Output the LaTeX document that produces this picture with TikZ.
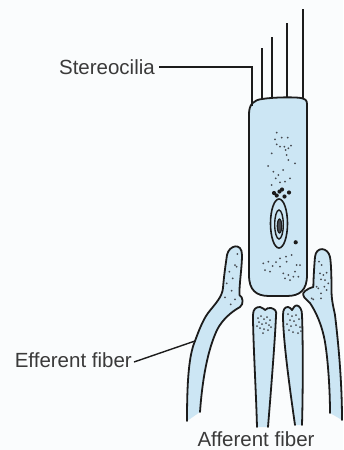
\documentclass[tikz,border=0pt]{standalone}
\usepackage{fontspec}
\setmainfont{Liberation Sans}
\definecolor{paper}{RGB}{250,252,253}
\definecolor{cyto}{RGB}{204,230,244}
\definecolor{ink}{RGB}{28,28,28}
\definecolor{labelgray}{RGB}{58,58,58}
\definecolor{graingray}{RGB}{70,74,80}
\begin{document}
\begin{tikzpicture}[x=1pt,y=-1pt,
  outline/.style={draw=ink,line width=1.8pt,line join=round,line cap=round},
  cellfill/.style={fill=cyto},
  cilium/.style={draw=ink,line width=1.6pt},
  leader/.style={draw=ink,line width=1.4pt},
  lbl/.style={font=\fontsize{20.5}{24}\selectfont,text=labelgray,inner sep=0pt},
  grain/.style={fill=graingray},
  granule/.style={fill=ink}]

\useasboundingbox (0,0) rectangle (343,450);
\fill[paper] (0,0) rectangle (343,450);

% stereocilia bundle on top of the hair cell
\draw[cilium] (262,48) -- (262,99);
\draw[cilium] (272,37) -- (272,98);
\draw[cilium] (287,23) -- (287,98);
\draw[cilium] (303,9) -- (303,99);

% hair cell body
\filldraw[cellfill,outline] (249,275) -- (249,114)
  .. controls (249,104) and (254,100) .. (262,99)
  .. controls (275,97) and (295,97) .. (301,98)
  .. controls (305,99) and (307,100) .. (307,104)
  -- (307,275)
  .. controls (307,290) and (300,296) .. (287,296)
  -- (269,296)
  .. controls (256,296) and (249,290) .. (249,275) -- cycle;

% nucleus
\draw[ink,line width=1.6pt] (279,223.5) ellipse [x radius=8.5pt, y radius=24.5pt];
\draw[ink,line width=1.4pt] (279,224.5) ellipse [x radius=4.3pt, y radius=14.5pt];
\filldraw[fill=graingray,draw=ink,line width=1.2pt] (279.5,226) ellipse [x radius=2.2pt, y radius=7pt];

% left efferent fiber with its terminal finger
\fill[cellfill] (187,421) .. controls (187,380) and (189,355) .. (195,341)
  .. controls (199,330) and (203,320) .. (208,313)
  .. controls (216,303) and (222,297) .. (223,288)
  .. controls (224,275) and (226,262) .. (227,255)
  .. controls (229,245) and (242,242) .. (242,255)
  .. controls (242,268) and (239,285) .. (239.5,295)
  .. controls (243,297) and (244,304) .. (240,307)
  .. controls (231,312) and (222,320) .. (217,330)
  .. controls (210,345) and (203,370) .. (200,412)
  -- cycle;
\draw[outline] (187,421) .. controls (187,380) and (189,355) .. (195,341)
  .. controls (199,330) and (203,320) .. (208,313)
  .. controls (216,303) and (222,297) .. (223,288)
  .. controls (224,275) and (226,262) .. (227,255)
  .. controls (229,245) and (242,242) .. (242,255)
  .. controls (242,268) and (239,285) .. (239.5,295)
  .. controls (243,297) and (244,304) .. (240,307)
  .. controls (231,312) and (222,320) .. (217,330)
  .. controls (210,345) and (203,370) .. (200,412);

% right efferent fiber with its terminal finger
\fill[cellfill] (342,420) .. controls (342,380) and (338,340) .. (335,315)
  .. controls (333,305) and (331.5,300) .. (331.5,290)
  .. controls (331.5,275) and (331,262) .. (330,257)
  .. controls (328,247) and (316,246) .. (315,257)
  .. controls (314,268) and (313.5,280) .. (313.3,287)
  .. controls (306,289) and (302,293) .. (303.3,295)
  .. controls (304,299) and (308,300) .. (310,303)
  .. controls (316,312) and (322,325) .. (325,342)
  .. controls (328,360) and (330,390) .. (330,413)
  -- cycle;
\draw[outline] (342,420) .. controls (342,380) and (338,340) .. (335,315)
  .. controls (333,305) and (331.5,300) .. (331.5,290)
  .. controls (331.5,275) and (331,262) .. (330,257)
  .. controls (328,247) and (316,246) .. (315,257)
  .. controls (314,268) and (313.5,280) .. (313.3,287)
  .. controls (306,289) and (302,293) .. (303.3,295)
  .. controls (304,299) and (308,300) .. (310,303)
  .. controls (316,312) and (322,325) .. (325,342)
  .. controls (328,360) and (330,390) .. (330,413);

% afferent fibers below the cell
\fill[cellfill] (257,427) .. controls (256,390) and (253,340) .. (253,315)
  .. controls (253,309) and (256,307) .. (260,307)
  .. controls (263,307) and (264,310) .. (265,310)
  .. controls (267,309) and (268,307) .. (271,308)
  .. controls (275,309) and (277,311) .. (276,316)
  .. controls (275,340) and (271,390) .. (268,427) -- cycle;
\draw[outline] (257,427) .. controls (256,390) and (253,340) .. (253,315)
  .. controls (253,309) and (256,307) .. (260,307)
  .. controls (263,307) and (264,310) .. (265,310)
  .. controls (267,309) and (268,307) .. (271,308)
  .. controls (275,309) and (277,311) .. (276,316)
  .. controls (275,340) and (271,390) .. (268,427);

\fill[cellfill] (295,425) .. controls (290,390) and (283,340) .. (283,315)
  .. controls (283,309) and (285,307) .. (288,307)
  .. controls (290,307) and (291,309) .. (292,310)
  .. controls (293,308) and (295,305) .. (297,305.5)
  .. controls (300,306) and (302,310) .. (302,315)
  .. controls (303,340) and (303,390) .. (302,425) -- cycle;
\draw[outline] (295,425) .. controls (290,390) and (283,340) .. (283,315)
  .. controls (283,309) and (285,307) .. (288,307)
  .. controls (290,307) and (291,309) .. (292,310)
  .. controls (293,308) and (295,305) .. (297,305.5)
  .. controls (300,306) and (302,310) .. (302,315)
  .. controls (303,340) and (303,390) .. (302,425);

% fine granules in the cytoplasm and terminals
\foreach \gx/\gy in {276.7/132.7,275/139.3,281.7/137.7,287.7/137.7,276.7/144.3,
  280/146.7,284.3/146.7,288.3/148.3,291/145.7,271.7/153.3,285.7/150,286.7/155,
  288.3/160,295/163.3,273.3/171.7,278.3/175,275.7/178.3,280/182.3,290/178.3,
  271.7/185,285/181.7,268/166,283/170,
  263.3/263.3,268.3/261.7,272.7/266,280/258.3,286/256.7,291.7/255,286.7/261.7,
  280/266.7,265/270,283.3/273.3,288.3/275,293.3/276.7,285/278.3,290/280,
  296.7/265,295/271.7,270/271.7,298.3/276.7,276/262,300/265,
  237.3/254,235/265,229.3/271.7,232.7/278.3,226.7/283.3,231.7/290.7,225/297.3,
  235/299.3,230.7/304.3,236.7/266.7,
  319/261.7,321.7/265,320/273.3,323.3/275,326.7/272.7,321/279.3,325/280,
  328.3/283.3,324.3/286.7,326.7/290,318.3/288.3,321/293.3,311.7/298.3,
  313.3/299.3,321/298.3,316.7/286.7,
  258/318,261/316,264/319,267/317,270/320,259/322,262/324,266/323,269/325,
  260/328,264/329,268/330,263/333,271/327,257/326,
  288/314,292/316,296/315,290/320,294/321,299/319,287/324,291/326,296/325,
  300/327,289/330,293/332,298/333,301/331}
  \fill[grain] (\gx,\gy) circle (1pt);

% dark granules above and beside the nucleus
\foreach \gx/\gy in {274/193,276.7/195.5,279.5/191.5,282/189.5,284.5/196.5,289/192.5,295.7/242.3}
  \fill[granule] (\gx,\gy) circle (2.1pt);

% labels and leader lines
\node[lbl,anchor=east] (stereo) at (155,67) {Stereocilia};
\coordinate (scbend) at (252,67);
\coordinate (sctip) at (252,106);
\draw[leader] ([xshift=4pt]stereo.east) -- (scbend) -- (sctip);

\node[lbl,anchor=east] (eff) at (132,360) {Efferent fiber};
\coordinate (efftip) at (195,341);
\draw[leader] ([xshift=2pt,yshift=-2pt]eff.east) -- (efftip);

\node[lbl] (aff) at (256,439.5) {Afferent fiber};
\end{tikzpicture}
\end{document}
